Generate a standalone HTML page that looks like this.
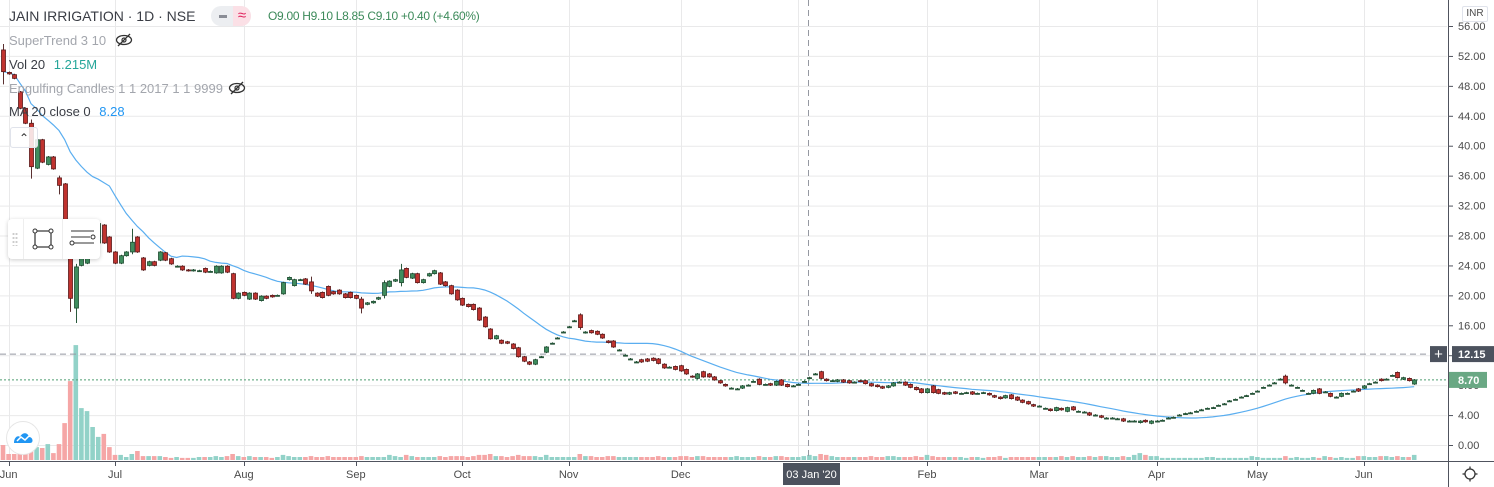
<!DOCTYPE html>
<html><head><meta charset="utf-8"><title>JAIN IRRIGATION chart</title>
<style>
html,body{margin:0;padding:0;background:#fff;}
body{width:1494px;height:487px;overflow:hidden;position:relative;font-family:"Liberation Sans",sans-serif;}
svg{position:absolute;left:0;top:0;}
.t{font-family:"Liberation Sans",sans-serif;}
</style></head>
<body>
<svg id="chart" width="1494" height="487" viewBox="0 0 1494 487"></svg>
<script>
const opens=[52.8,49.8,49.5,47.2,45,43,37,40.8,37.5,38.5,35.7,34.9,27,18.3,24,24.3,25.5,27,29.4,27.8,
25.8,24.3,25.3,25.8,27.8,25,24,24.5,24.7,25.7,24.9,23.9,23.9,23.4,23.3,23.3,23.6,23.2,23.0,23.0,
23.9,22.9,19.6,20.4,19.5,20.3,19.3,19.9,20.0,20.0,20.2,22.1,21.3,22.1,22.2,21.8,20.3,20.4,21.2,20.5,
20.7,20.2,20.4,20.0,19.5,18.8,19.0,19.5,20.0,21.2,21.9,21.7,23.6,22.3,22.9,21.7,22.6,22.9,23.0,21.8,
21.3,20.7,19.6,18.8,18.8,18.3,17.1,15.5,14.2,14.0,13.8,13.5,13.0,11.8,11.1,10.8,11.8,12.4,13.6,14.3,
15.1,15.8,16.6,17.4,15.0,15.3,15.2,14.8,13.9,13.9,12.7,12.0,11.5,11.1,11.4,11.5,11.6,11.5,10.8,10.4,
10.5,10.6,10.1,9.2,8.9,9.8,9.5,9.1,8.6,8.1,7.6,7.5,7.6,8.0,8.5,8.8,8.1,8.2,8.0,8.7,
8.1,7.9,8.1,8.5,9.0,9.5,9.8,8.8,8.6,8.5,8.7,8.6,8.4,8.6,8.6,8.2,8.0,7.8,7.7,7.9,
8.4,8.4,8.1,7.7,7.5,7.0,7.9,7.4,7.0,6.8,7.1,6.9,7.0,7.1,6.9,7.0,6.9,6.6,6.4,6.3,
6.7,6.4,6.0,5.8,5.4,5.2,4.9,4.8,4.6,4.9,4.5,5.1,4.5,4.4,4.3,4.0,3.9,3.6,3.6,3.5,
3.5,3.2,3.2,3.0,3.3,2.9,3.2,3.3,3.6,3.7,4.0,4.2,4.3,4.5,4.7,4.9,5.0,5.3,5.5,5.9,
6.1,6.4,6.6,6.9,7.2,7.7,8.0,8.3,8.8,9.2,8.0,7.7,7.3,6.9,6.9,7.5,7.1,6.9,6.4,6.5,
6.9,7.2,7.5,7.6,8.2,8.4,8.8,8.8,9.3,9.7,8.8,8.9,8.15];
const closes=[49.9,49.6,49.0,45.0,43,37.2,40.8,37.8,38.5,36.9,34.7,27.5,19.6,23.8,25,25,26.5,29.6,27,25.8,
24.3,25.3,25.8,27.1,25.8,23.4,24.5,24,25.8,24.7,24.2,23.9,23.4,23.3,23.4,23.3,23.1,23.2,23.9,23.9,
23.1,19.6,20.3,20.0,20.3,19.5,19.9,19.6,19.8,20.0,21.7,22.4,22.1,22.1,21.5,20.6,19.9,19.7,20.0,20.2,
20.2,19.7,19.7,19.6,18.3,19.0,19.2,19.7,21.7,21.9,22.1,23.4,22.4,22.9,21.7,22.1,22.9,23.3,21.5,21.3,
20.2,19.4,18.7,18.5,18.1,16.7,15.8,14.2,14.6,13.6,13.6,12.9,11.8,11.2,10.8,11.4,11.8,13.1,13.6,14.3,
15.1,15.8,16.6,15.7,15.1,15.0,14.8,14.3,13.7,13.1,12.7,12.0,11.5,11.1,11.1,11.2,11.3,10.9,10.3,10.4,
10.1,9.9,9.5,9.1,9.5,9.1,9.1,8.7,8.3,7.9,7.6,7.5,7.9,8.0,8.5,8.1,8.1,8.0,8.5,8.0,
7.8,7.9,8.1,8.5,9.0,9.5,8.9,8.6,8.6,8.7,8.4,8.3,8.4,8.5,8.2,7.9,7.8,7.6,7.9,8.3,
8.4,8.0,7.7,7.4,7.0,7.5,7.0,6.9,6.8,7.0,6.9,6.9,7.0,6.8,6.9,7.0,6.7,6.4,6.2,6.6,
6.2,6.0,5.7,5.5,5.2,5.2,4.9,4.6,5.0,4.7,5.0,4.7,4.5,4.4,4.0,4.0,3.7,3.6,3.6,3.5,
3.2,3.2,3.2,3.2,3.1,3.2,3.2,3.3,3.6,3.7,4.0,4.2,4.3,4.5,4.7,4.9,5.0,5.3,5.5,5.9,
6.1,6.4,6.6,6.9,7.2,7.7,8.0,8.3,8.8,8.3,8.0,7.7,7.3,6.9,7.3,6.9,7.1,6.5,6.4,6.9,
6.9,7.2,7.2,7.9,8.2,8.4,8.6,8.8,9.3,9.0,9.0,8.6,8.7];
const wickOverrides=[[0,53.6,48.2],[5,43.5,35.6],[12,27.5,17.8],[13,24.2,16.3],[23,28.9,25.5],[17,30,26],[71,24.2,21.2],[103,17.6,15.4],[229,9.4,8.1],[10,36,33.5],[55,22.5,20.2],[64,19.8,17.6],[68,22,19.6]];
const volumes=[5,2,2,2.3,2.3,3.3,4.3,4,5.3,2.3,5.3,12.3,26.3,38.3,17.3,16.3,11,7.7,8.7,4.3,1.7,1.7,1,2,3,1.3,1.3,1.3,1.3,1,0.7,1,0.7,
0.7,0.7,1,1,1,1.3,1,1.3,2,1.3, 1,1.3,1,1,1,0.7,1,1.7,1.3,1, 1,1,1.3,1,1,1.3,1,1,1,1, 1,1.3,1,1,1,1,1.7,1.3,1,1.7,
1.3,1,1,1,1,1.3,1,1.3,1.3,1.3, 1,1.3,1.7,1.7,2,1.3,1.3,1,1.3,1.7, 1.3,1.3,1.3,1,1.7,1,1,1,1,1, 2,1.3,1.3,1,1,1.3,1.3,1,1,1,
1,1,1,1,1.3,1,1,1,1.3,1.3, 1,1.3,1.3,1,1,1,1,1,1.3,1, 1,1,1.3,1,1,1.3,1.3,1,1,1, 1.3,1.7,1.3,2,1.7,1.3,1,1,1,1,
1,1,1.3,1,1,1.3,1.3,1,1,1, 1.3,1,1.7,1.3,1,1,1,1,1,0.7, 1,1,0.7,1,1,1.3,0.7,1,1,1, 1,1,1,1,1,1,1.3,1,1.3,1,
1,1.3,1,1.3,1.3,1,1,1.3,1,1.7, 2.3,1.7,1.3,1.3,0.7,0.7,0.7,0.7,0.7,0.7, 0.7,0.7,1,1,0.7,0.7,0.7,0.7,0.7,0.7,
1.3,1,0.7,0.7,0.7,0.7,1.3,0.7,1,0.7, 0.7,1,0.7,1.3,1,0.7,1,0.7,0.7,1.3, 1.3,1,1,1.3,1.3,1,1.3,1,1,1.7];
const monthLabels=["Jun","Jul","Aug","Sep","Oct","Nov","Dec","Jan","Feb","Mar","Apr","May","Jun"];
const monthBars=[1,20,43,63,82,101,121,142,165,185,206,224,243];
const priceTicks=[56,52,48,44,40,36,32,28,24,20,16,12,8,4,0];
const lastPrice=8.70, crossPrice=12.15, crossBar=144, maPeriod=20;

const NS="http://www.w3.org/2000/svg";
const svg=document.getElementById('chart');
const X0=3, DX=5.6, PLOT_R=1447, VOL_BASE=460;
const xS=i=>X0+i*DX;
const yS=p=>445-p*7.482;
const vS=v=>v*3;
function mk(tag,attrs,parent){const e=document.createElementNS(NS,tag);for(const k in attrs)e.setAttribute(k,attrs[k]);(parent||svg).appendChild(e);return e;}

const grid=mk('g',{});


priceTicks.forEach(p=>{const l=mk('line',{x1:0,x2:PLOT_R,y1:yS(p)+0.5,y2:yS(p)+0.5,stroke:'#e9e9ea','stroke-width':1},grid);
});
monthBars.forEach(b=>{const x=Math.round(xS(b))+0.5;const l=mk('line',{x1:x,x2:x,y1:0,y2:VOL_BASE,stroke:'#e9e9ea','stroke-width':1},grid);
});

const vg=mk('g',{});


volumes.forEach((v,i)=>{const up=closes[i]>=opens[i];const h=vS(v);
const r=mk('rect',{x:xS(i)-2.3,y:VOL_BASE-h,width:4.6,height:h,fill:up?'#92d2c8':'#f5a6a6'},vg);
});

const ch=mk('line',{x1:0,x2:PLOT_R,y1:yS(crossPrice),y2:yS(crossPrice),stroke:'#9598a1','stroke-width':1,'stroke-dasharray':'6,4'});

const cv=mk('line',{x1:Math.round(xS(crossBar))-0.5,x2:Math.round(xS(crossBar))-0.5,y1:0,y2:VOL_BASE,stroke:'#9598a1','stroke-width':1,'stroke-dasharray':'6,4'});

const lp=mk('line',{x1:0,x2:PLOT_R,y1:yS(lastPrice),y2:yS(lastPrice),stroke:'#4e9e70','stroke-width':1,'stroke-dasharray':'2,2'});


let pts=[];
for(let i=0;i<closes.length;i++){const s=Math.max(0,i-maPeriod+1);let sum=0;for(let j=s;j<=i;j++)sum+=closes[j];pts.push(xS(i).toFixed(1)+','+yS(sum/(i-s+1)).toFixed(1));}
const ma=mk('polyline',{points:pts.join(' '),fill:'none',stroke:'#5aaef0','stroke-width':1.2});


const cg=mk('g',{});


opens.forEach((o,i)=>{const c=closes[i];const up=c>=o;let hi=Math.max(o,c)+0.12,lo=Math.min(o,c)-0.12;
wickOverrides.forEach(w=>{if(w[0]===i){hi=w[1];lo=w[2];}});
const x=Math.round(xS(i));
const w=mk('line',{x1:x+0.5,x2:x+0.5,y1:yS(hi),y2:yS(lo),stroke:up?'#2a5a3c':'#5a3030','stroke-width':1},cg);

const top=yS(Math.max(o,c)),bh=Math.max(1,yS(Math.min(o,c))-top);
const b=mk('rect',{x:x-1.5,y:top,width:4,height:bh,fill:up?'#3f8d5e':'#c0332f',stroke:up?'#1f4a30':'#5a1a1a','stroke-width':0.8},cg);
});

const ax=mk('line',{x1:1448.5,x2:1448.5,y1:0,y2:487,stroke:'#50535e','stroke-width':1});

const bx=mk('line',{x1:0,x2:1494,y1:461.5,y2:461.5,stroke:'#50535e','stroke-width':1});

priceTicks.forEach(p=>{const y=yS(p);
const tk=mk('line',{x1:1449,x2:1453,y1:y+0.5,y2:y+0.5,stroke:'#50535e'});

const t=mk('text',{x:1458,y:y+4,'font-size':11,fill:'#4a4a4a',class:'t'});t.textContent=p.toFixed(2);
});
monthLabels.forEach((m,k)=>{if(k===7)return;const x=xS(monthBars[k]);
const tk=mk('line',{x1:Math.round(x)+0.5,x2:Math.round(x)+0.5,y1:462,y2:466,stroke:'#50535e'});

const t=mk('text',{x:x,y:478,'font-size':11,fill:'#4a4a4a','text-anchor':'middle',class:'t'});t.textContent=m;
});

const cxl=mk('rect',{x:783,y:463,width:57,height:22,fill:'#4c525e'});

const cxt=mk('text',{x:811.5,y:478,'font-size':11,fill:'#fff','text-anchor':'middle',class:'t'});cxt.textContent="03 Jan '20";

const pb=mk('rect',{x:1430,y:yS(crossPrice)-8,width:17,height:16,fill:'#4c525e'});

const pbt=mk('text',{x:1438.5,y:yS(crossPrice)+5,'font-size':15,fill:'#fff','text-anchor':'middle',class:'t'});pbt.textContent='+';

const cpb=mk('rect',{x:1452,y:yS(crossPrice)-8,width:42,height:16,fill:'#4c525e'});

const cpt=mk('text',{x:1458,y:yS(crossPrice)+4,'font-size':11,'font-weight':'bold',fill:'#fff',class:'t'});cpt.textContent=crossPrice.toFixed(2);

const lpb=mk('rect',{x:1449,y:yS(lastPrice)-8,width:38,height:16,fill:'#6aa884'});

const lpt=mk('text',{x:1458,y:yS(lastPrice)+4,'font-size':11,'font-weight':'bold',fill:'#fff',class:'t'});lpt.textContent=lastPrice.toFixed(2);

</script>

<div style="position:absolute;left:9px;top:8px;font-size:14px;color:#3a3d45;white-space:nowrap;">JAIN IRRIGATION · 1D · NSE</div>
<div style="position:absolute;left:211px;top:6px;width:40px;height:20px;border-radius:10px;background:#eceef1;overflow:hidden;">
 <div style="position:absolute;left:8px;top:9px;width:8px;height:3px;background:#8a8d96;"></div>
 <div style="position:absolute;left:22px;top:0;width:18px;height:20px;background:#fbe0e6;color:#e0245e;font-size:15px;line-height:20px;text-align:center;">≈</div>
</div>
<div style="position:absolute;left:268px;top:9px;font-size:12px;color:#3c8a5a;white-space:nowrap;letter-spacing:-0.3px;">O9.00 H9.10 L8.85 C9.10 +0.40 (+4.60%)</div>
<div style="position:absolute;left:9px;top:33px;font-size:13px;color:#a3a6ad;white-space:nowrap;">SuperTrend 3 10</div>
<svg style="left:115px;top:33px" width="18" height="14"><ellipse cx="9" cy="7" rx="7.5" ry="4.5" fill="none" stroke="#333" stroke-width="1.3"/><circle cx="9" cy="7" r="2" fill="none" stroke="#333" stroke-width="1.2"/><line x1="3" y1="13" x2="15" y2="1" stroke="#333" stroke-width="1.3"/></svg>
<div style="position:absolute;left:9px;top:57px;font-size:13px;color:#3a3d45;white-space:nowrap;">Vol 20 <span style="color:#26a69a;margin-left:5px;">1.215M</span></div>
<div style="position:absolute;left:9px;top:81px;font-size:13px;color:#a3a6ad;white-space:nowrap;">Engulfing Candles 1 1 2017 1 1 9999</div>
<svg style="left:228px;top:81px" width="18" height="14"><ellipse cx="9" cy="7" rx="7.5" ry="4.5" fill="none" stroke="#333" stroke-width="1.3"/><circle cx="9" cy="7" r="2" fill="none" stroke="#333" stroke-width="1.2"/><line x1="3" y1="13" x2="15" y2="1" stroke="#333" stroke-width="1.3"/></svg>
<div style="position:absolute;left:9px;top:104px;font-size:13px;color:#3a3d45;white-space:nowrap;">MA 20 close 0 <span style="color:#2196f3;margin-left:5px;">8.28</span></div>
<div style="position:absolute;left:10px;top:127px;width:26px;height:19px;border:1px solid #e0e3eb;border-radius:3px;background:rgba(255,255,255,0.85);font-size:12px;text-align:center;line-height:20px;color:#333;">&#8963;</div>
<div style="position:absolute;left:8px;top:219px;width:92px;height:40px;background:#fff;border-radius:4px;box-shadow:0 1px 4px rgba(0,0,0,0.2);">
 <div style="position:absolute;left:4px;top:13px;width:6px;height:14px;background:radial-gradient(circle,#ccc 1px,transparent 1.2px) 0 0/3px 4px;"></div>
 <div style="position:absolute;left:15px;top:0;width:1px;height:40px;background:#eee;"></div>
 <svg style="left:24px;top:9px" width="22" height="22"><rect x="3" y="3" width="16" height="16" fill="none" stroke="#333" stroke-width="1.2"/><circle cx="3" cy="3" r="2" fill="#fff" stroke="#333"/><circle cx="19" cy="3" r="2" fill="#fff" stroke="#333"/><circle cx="3" cy="19" r="2" fill="#fff" stroke="#333"/><circle cx="19" cy="19" r="2" fill="#fff" stroke="#333"/></svg>
 <div style="position:absolute;left:54px;top:0;width:1px;height:40px;background:#eee;"></div>
 <svg style="left:60px;top:9px" width="30" height="22"><line x1="3" y1="3" x2="26" y2="3" stroke="#333"/><line x1="3" y1="9" x2="22" y2="9" stroke="#333"/><circle cx="25" cy="9" r="2" fill="#fff" stroke="#333"/><line x1="6" y1="15" x2="26" y2="15" stroke="#333"/><circle cx="4" cy="15" r="2" fill="#fff" stroke="#333"/></svg>
</div>
<div style="position:absolute;left:6px;top:421px;width:32px;height:32px;border-radius:50%;background:#fff;border:1px solid #e6e6e6;">
 <svg style="left:6px;top:9px" width="21" height="14"><path d="M1 12 C1 6 5 4 7 6 C9 1 15 1 16 6 C20 6 21 12 17 12 Z" fill="#2196f3"/><path d="M4 10 L8 6 L12 9 L16 5" fill="none" stroke="#fff" stroke-width="1.5"/></svg>
</div>
<div style="position:absolute;left:1462px;top:6px;width:24px;height:14px;border:1px solid #e0e3eb;border-radius:2px;font-size:10px;color:#4a4a4a;text-align:center;line-height:14px;">INR</div>
<svg style="left:1462px;top:466px" width="16" height="16"><circle cx="8" cy="8" r="5" fill="none" stroke="#333" stroke-width="1.3"/><g stroke="#333" stroke-width="1.3"><line x1="8" y1="0.5" x2="8" y2="3"/><line x1="8" y1="13" x2="8" y2="15.5"/><line x1="0.5" y1="8" x2="3" y2="8"/><line x1="13" y1="8" x2="15.5" y2="8"/></g></svg>
</body></html>
